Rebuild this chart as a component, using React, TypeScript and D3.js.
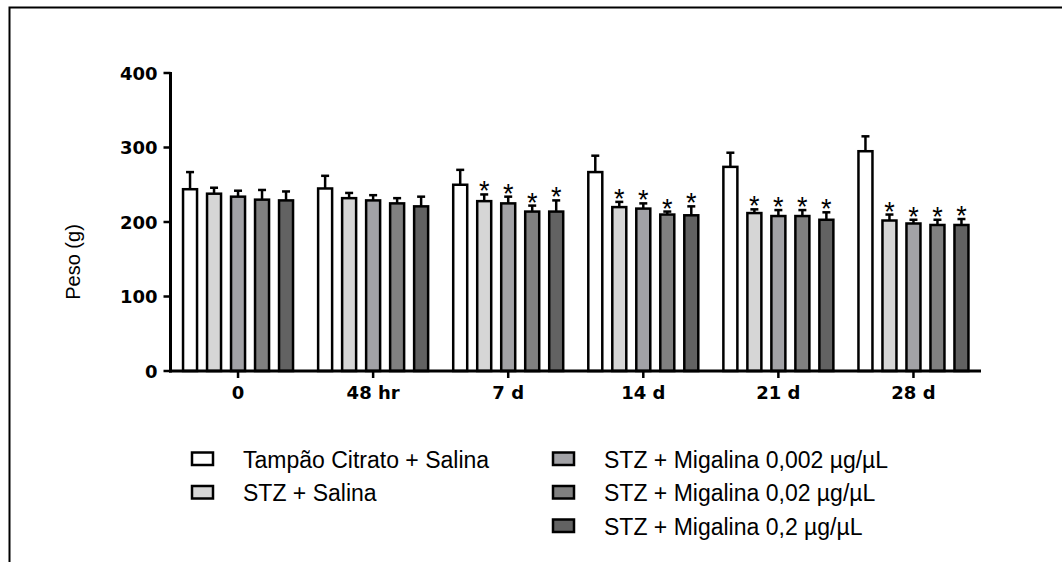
import React from 'react';
import { scaleBand, scaleLinear } from 'd3';

const width = 1062;
const height = 562;

const categories = ['0', '48 hr', '7 d', '14 d', '21 d', '28 d'];
const seriesNames = [
  'Tampão Citrato + Salina',
  'STZ + Salina',
  'STZ + Migalina 0,002 µg/µL',
  'STZ + Migalina 0,02 µg/µL',
  'STZ + Migalina 0,2 µg/µL',
];
const fills = ['#ffffff', '#d6d6d6', '#a2a2a6', '#808080', '#626262'];

// means per series, one value per category
const tampao = [244, 245, 250, 267, 274, 295];
const stzSalina = [238, 232, 228, 220, 212, 202];
const mig0002 = [234, 229, 225, 218, 208, 198];
const mig002 = [230, 225, 214, 210, 208, 196];
const mig02 = [229, 221, 214, 209, 203, 196];

// SEM per series
const tampaoErr = [23, 17, 20, 22, 19, 20];
const stzSalinaErr = [8, 7, 9, 7, 5, 8];
const mig0002Err = [8, 7, 9, 7, 8, 5];
const mig002Err = [13, 7, 8, 4, 8, 7];
const mig02Err = [12, 13, 15, 12, 10, 8];

// significance marks (*) per series
const tampaoSig = [false, false, false, false, false, false];
const stzSig = [false, false, true, true, true, true];

const means = [tampao, stzSalina, mig0002, mig002, mig02];
const errs = [tampaoErr, stzSalinaErr, mig0002Err, mig002Err, mig02Err];
const sigs = [tampaoSig, stzSig, stzSig, stzSig, stzSig];

const yTicks = [0, 100, 200, 300, 400];

const left = 170.5;
const right = 981;
const top = 73;
const bottom = 371;

const tickFont = 'DejaVu Sans, Verdana, sans-serif';
const textFont = 'Liberation Sans, Arial, sans-serif';

const x0 = scaleBand().domain(categories).range([left, right]);
const x1 = scaleBand()
  .domain(seriesNames)
  .range([0, 110])
  .paddingInner(0.4167);
const y = scaleLinear().domain([0, 400]).range([bottom, top]);

const legendLeft = [
  { name: seriesNames[0], fill: fills[0], row: 0 },
  { name: seriesNames[1], fill: fills[1], row: 1 },
];
const legendRight = [
  { name: seriesNames[2], fill: fills[2], row: 0 },
  { name: seriesNames[3], fill: fills[3], row: 1 },
  { name: seriesNames[4], fill: fills[4], row: 2 },
];

const Legend = ({ items, x }: { items: any[]; x: number }) => (
  <g>
    {items.map(d => (
      <g key={d.name} transform={`translate(${x},${452.5 + d.row * 33.5})`}>
        <rect x={0} y={0} width={21} height={12.5} fill={d.fill} stroke="#000" strokeWidth={2.5} />
        <text x={51} y={15} fontSize={23} fontFamily={textFont} fill="#000">
          {d.name}
        </text>
      </g>
    ))}
  </g>
);

const App = () => {
  const groupOffset = (x0.bandwidth() - 110) / 2;
  const bw = x1.bandwidth();
  const capHalf = 4;
  return (
    <svg
      width={width}
      height={height}
      style={{ position: 'absolute', left: 0, top: 0, background: '#fff' }}
    >
      {/* frame */}
      <path d={`M9.5,${height} V7.5 H${width}`} fill="none" stroke="#000" strokeWidth={2} />

      {/* bars */}
      {categories.map((c, ci) => (
        <g key={c} transform={`translate(${x0(c)! + groupOffset},0)`}>
          {seriesNames.map((s, si) => {
            const bx = x1(s)!;
            const v = means[si][ci];
            const e = errs[si][ci];
            const cx = bx + bw / 2;
            return (
              <g key={s}>
                <line x1={cx} x2={cx} y1={y(v)} y2={y(v + e)} stroke="#000" strokeWidth={2.5} />
                <line x1={cx - capHalf} x2={cx + capHalf} y1={y(v + e)} y2={y(v + e)} stroke="#000" strokeWidth={2.5} />
                <rect
                  x={bx}
                  y={y(v)}
                  width={bw}
                  height={bottom - y(v)}
                  fill={fills[si]}
                  stroke="#000"
                  strokeWidth={2.5}
                />
                {sigs[si][ci] && (
                  <text
                    x={cx}
                    y={y(v + e) + 6}
                    textAnchor="middle"
                    fontSize={27}
                    fontFamily={textFont}
                    fill="#000"
                  >
                    *
                  </text>
                )}
              </g>
            );
          })}
        </g>
      ))}

      {/* y axis */}
      <line x1={left} x2={left} y1={top - 1} y2={bottom + 1.5} stroke="#000" strokeWidth={3} />
      {yTicks.map(t => (
        <g key={t}>
          <line x1={left - 7} x2={left} y1={y(t)} y2={y(t)} stroke="#000" strokeWidth={2.5} />
          <text
            x={left - 13}
            y={y(t) + 6.5}
            textAnchor="end"
            fontSize={18}
            fontWeight="bold"
            fontFamily={tickFont}
            fill="#000"
          >
            {t}
          </text>
        </g>
      ))}
      <text
        transform={`translate(80,262) rotate(-90)`}
        textAnchor="middle"
        fontSize={20}
        fontFamily={textFont}
        fill="#000"
      >
        Peso (g)
      </text>

      {/* x axis */}
      <line x1={left - 1.5} x2={right} y1={bottom} y2={bottom} stroke="#000" strokeWidth={3} />
      {categories.map(c => {
        const cx = x0(c)! + x0.bandwidth() / 2;
        return (
          <g key={c}>
            <line x1={cx} x2={cx} y1={bottom} y2={bottom + 7} stroke="#000" strokeWidth={2.5} />
            <text
              x={cx}
              y={399}
              textAnchor="middle"
              fontSize={18}
              fontWeight="bold"
              fontFamily={tickFont}
              fill="#000"
            >
              {c}
            </text>
          </g>
        );
      })}

      <Legend items={legendLeft} x={192} />
      <Legend items={legendRight} x={553} />
    </svg>
  );
};

export default App;
